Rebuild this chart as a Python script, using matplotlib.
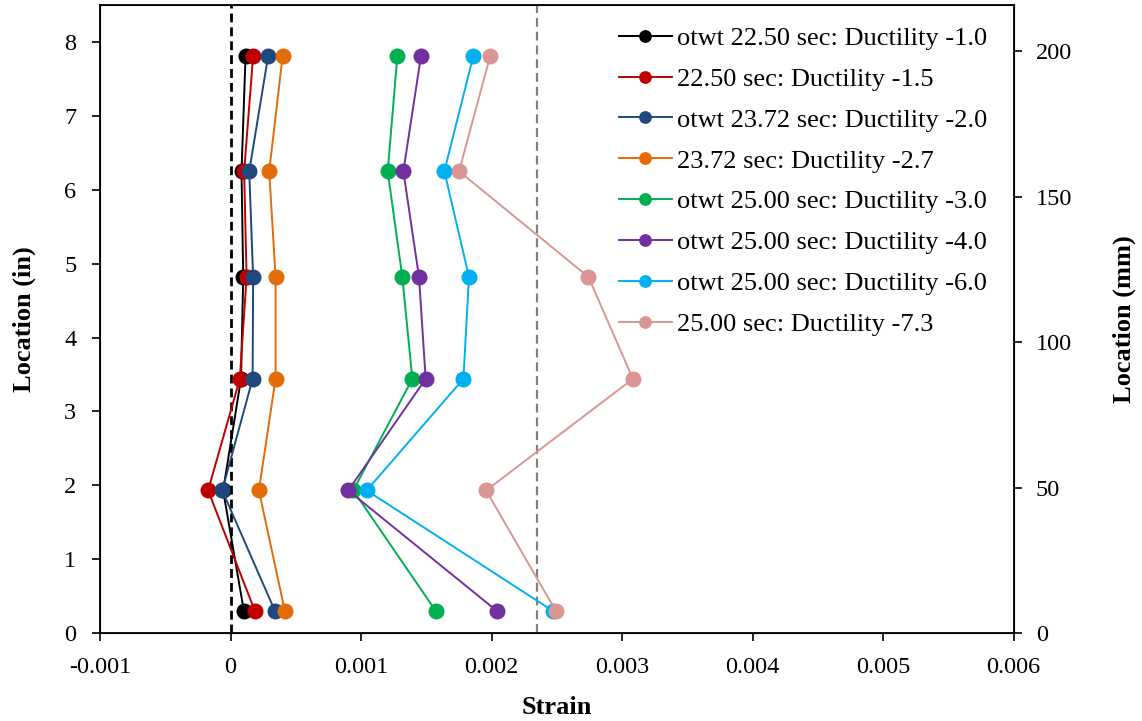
import matplotlib.pyplot as plt
from matplotlib import ticker
import numpy as np

plt.rcParams['font.family'] = ['Liberation Serif', 'DejaVu Serif']

# location of gauges (in), bottom to top
location_in = [0.30, 1.93, 3.44, 4.82, 6.25, 7.81]

labels = [
    'otwt 22.50 sec: Ductility -1.0',
    '22.50 sec: Ductility -1.5',
    'otwt 23.72 sec: Ductility -2.0',
    '23.72 sec: Ductility -2.7',
    'otwt 25.00 sec: Ductility -3.0',
    'otwt 25.00 sec: Ductility -4.0',
    'otwt 25.00 sec: Ductility -6.0',
    '25.00 sec: Ductility -7.3',
]

strain_d10 = [0.000102, -0.000057, 0.000080, 0.000097, 0.000084, 0.000115]
strain_d15 = [0.000186, -0.000172, 0.000071, 0.000123, 0.000104, 0.000173]
strain_d20 = [0.000340, -0.000064, 0.000169, 0.000173, 0.000143, 0.000288]
strain_d27 = [0.000416, 0.000217, 0.000345, 0.000345, 0.000296, 0.000399]
strain_d30 = [0.001572, 0.000940, 0.001393, 0.001316, 0.001204, 0.001278]
strain_d40 = [0.002040, 0.000902, 0.001495, 0.001444, 0.001324, 0.001459]
strain_d60 = [0.002469, 0.001043, 0.001784, 0.001827, 0.001638, 0.001860]
strain_d73 = [0.002492, 0.001958, 0.003083, 0.002742, 0.001751, 0.001989]

yield_strain = 0.00235

colors = ['#000000', '#C00000', '#1F497D', '#E36C09',
          '#00B050', '#7030A0', '#00B0F0', '#D99694']

series = [strain_d10, strain_d15, strain_d20, strain_d27,
          strain_d30, strain_d40, strain_d60, strain_d73]

fig = plt.figure(figsize=(11.42, 7.21), dpi=100)
ax = fig.add_axes([0.0876, 0.122, 0.8, 0.871])

ax.axvline(0, color='black', lw=2.0, dashes=(3.2, 1.8), zorder=1)
ax.axvline(yield_strain, color='#808080', lw=1.6, dashes=(4.0, 2.2), zorder=1)

for vals, lab, c in zip(series, labels, colors):
    ax.plot(vals, location_in, color=c, lw=1.4, marker='o', markersize=11.5,
            markeredgewidth=0, label=lab, zorder=3)

ax.set_xlim(-0.001, 0.006)
ax.set_ylim(0, 8.5)
ax.set_xticks(np.arange(-0.001, 0.0061, 0.001))
ax.set_yticks(range(0, 9))
ax.xaxis.set_major_formatter(ticker.FuncFormatter(
    lambda v, p: '0' if abs(v) < 1e-12 else f'{v:.3f}'))

ax.tick_params(labelsize=17.5, length=6, width=1.2, direction='out')
ax.tick_params(axis='x', pad=11)
ax.tick_params(axis='y', pad=11)
for s in ax.spines.values():
    s.set_linewidth(1.3)

ax.set_xlabel('Strain', fontsize=19, fontweight='bold', labelpad=13)
ax.set_ylabel('Location (in)', fontsize=19, fontweight='bold', labelpad=20)

ax2 = ax.twinx()
ax2.set_ylim(0, 8.5 * 25.4)
ax2.set_yticks([0, 50, 100, 150, 200])
ax2.tick_params(labelsize=17.5, length=6, width=1.2, direction='out', pad=10)
ax2.set_ylabel('Location (mm)', fontsize=19, fontweight='bold', labelpad=29)

leg = ax.legend(loc='upper left', bbox_to_anchor=(0.568, 0.966), frameon=False,
                fontsize=19, handlelength=2.0, handletextpad=0.2,
                borderpad=0, borderaxespad=0, labelspacing=0.66, markerscale=0.8)

fig.savefig('out.png', dpi=100)
